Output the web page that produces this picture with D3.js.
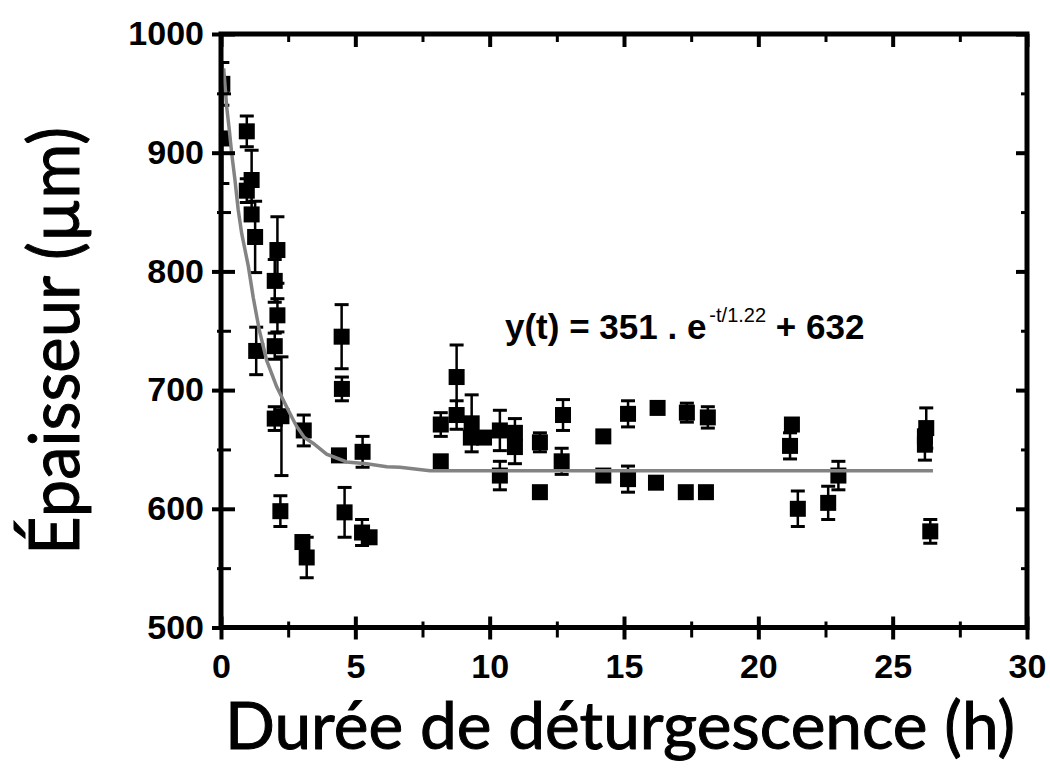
<!DOCTYPE html>
<html><head><meta charset="utf-8">
<script src="https://cdn.jsdelivr.net/npm/d3@7"></script>
<style>body{margin:0;background:#fff} svg{display:block}</style>
</head><body>
<svg id="chart" width="1050" height="774"></svg>
<script>
// ---- data ----
const tHours = [0.05,0.05,0.96,0.96,1.14,1.14,1.27,2.1,2.0,2.1,2.0,1.31,4.49,4.5,2.0,2.25,3.08,4.39,5.27,2.21,4.6,3.03,3.19,5.25,5.53,
  8.18,8.18,8.77,8.77,9.33,9.3,9.79,10.38,10.94,10.94,10.38,11.87,11.87,12.73,12.68,14.23,14.23,15.15,15.15,16.25,16.19,17.34,17.3,18.12,18.05,
  21.25,21.18,21.47,22.98,22.6,26.25,26.2,26.2,26.4];
const thickness = [958,912,918,868,877,848,829,818,792,763,737,733,745,701,676,678,666,645,648,598,597,572,559,580,576,
  671,640,711,679,672,660,660,666,664,652,628,656,614,679,640,661,628,680,625,685,622,681,614,677,614,
  671,653,600,628,605,668,661,654,581];
const errThickness = [18,38,13,10,25,0,30,28,18,14,11,20,27,10,10,50,13,0,13,13,21,0,17,11,0,
  10,0,27,12,24,0,0,17,12,14,12,8,0,13,11,0,0,11,11,0,0,8,0,9,0,
  0,11,15,12,14,17,0,13,10];
const fitT = [0.1,0.21,0.31,0.4,0.52,0.64,0.77,1.02,1.2,1.43,1.7,2.07,2.44,2.8,3.1,3.44,3.93,4.68,5.42,6.17,6.66,7.78,26.5];
const fitV = [971,939,919,899,877,852,832,804,778,750,725,703,686,670,660,655,646,639.5,638,635.5,635,632,632];
const xMajor = [0,5,10,15,20,25,30];
const xMinor = [2.5,7.5,12.5,17.5,22.5,27.5];
const yMajor = [500,600,700,800,900,1000];
const yMinor = [550,650,750,850,950];
const xTitle = "Durée de déturgescence (h)";
const yTitle = "Épaisseur (µm)";
const eqMain = "y(t) = 351 . e";
const eqSup = "-t/1.22";
const eqTail = " + 632";

// ---- layout ----
const L = 221, R = 1027, T = 34, B = 627.5;
const svg = d3.select("#chart");
const x = d3.scaleLinear().domain([0, 30]).range([L, R]);
const y = d3.scaleLinear().domain([500, 1000]).range([B, T]);
const tickFont = "'Liberation Sans', Arial, sans-serif";
const fmt = d3.format("d");

svg.append("defs").append("clipPath").attr("id", "plotclip")
  .append("rect").attr("x", L).attr("y", T).attr("width", R - L).attr("height", B - T);

const pts = tHours.map((t, i) => ({t, v: thickness[i], e: errThickness[i]}));
const g = svg.append("g").attr("clip-path", "url(#plotclip)");

// error bars
const eb = g.append("g").attr("stroke", "#000").attr("fill", "none");
pts.filter(d => d.e > 0).forEach(d => {
  eb.append("line").attr("x1", x(d.t)).attr("x2", x(d.t)).attr("y1", y(d.v - d.e)).attr("y2", y(d.v + d.e)).attr("stroke-width", 2.5);
  [d.v - d.e, d.v + d.e].forEach(val => {
    eb.append("line").attr("x1", x(d.t) - 7).attr("x2", x(d.t) + 7).attr("y1", y(val)).attr("y2", y(val)).attr("stroke-width", 3);
  });
});
// squares
const sz = 16;
g.append("g").selectAll("rect").data(pts).join("rect")
  .attr("x", d => x(d.t) - sz / 2).attr("y", d => y(d.v) - sz / 2)
  .attr("width", sz).attr("height", sz).attr("fill", "#000");

// fit curve
g.append("path").datum(fitT.map((t, i) => [t, fitV[i]]))
  .attr("d", d3.line().x(d => x(d[0])).y(d => y(d[1])))
  .attr("fill", "none").attr("stroke", "#838383").attr("stroke-width", 3.5);

// axes
function styleAxis(sel, w) {
  sel.select(".domain").remove();
  sel.selectAll(".tick line").attr("stroke", "#000").attr("stroke-width", w);
  sel.selectAll("text").attr("font-family", tickFont).attr("font-weight", "bold").attr("font-size", 34).attr("fill", "#000");
}
// left
svg.append("g").attr("transform", `translate(${L},0)`).call(d3.axisLeft(y).tickValues(yMajor).tickFormat(fmt).tickSize(9).tickPadding(8)).call(styleAxis, 4);
svg.append("g").attr("transform", `translate(${L},0)`).call(d3.axisRight(y).tickValues(yMajor).tickSize(14).tickFormat("")).call(styleAxis, 4);
svg.append("g").attr("transform", `translate(${L},0)`).call(d3.axisLeft(y).tickValues(yMinor).tickSize(4).tickFormat("")).call(styleAxis, 3);
svg.append("g").attr("transform", `translate(${L},0)`).call(d3.axisRight(y).tickValues(yMinor).tickSize(10).tickFormat("")).call(styleAxis, 3);
// right
svg.append("g").attr("transform", `translate(${R},0)`).call(d3.axisLeft(y).tickValues(yMajor).tickSize(11).tickFormat("")).call(styleAxis, 4);
svg.append("g").attr("transform", `translate(${R},0)`).call(d3.axisLeft(y).tickValues(yMinor).tickSize(6).tickFormat("")).call(styleAxis, 3);
// bottom
svg.append("g").attr("transform", `translate(0,${B})`).call(d3.axisBottom(x).tickValues(xMajor).tickFormat(fmt).tickSize(12).tickPadding(14)).call(styleAxis, 4);
svg.append("g").attr("transform", `translate(0,${B})`).call(d3.axisTop(x).tickValues(xMajor).tickSize(11).tickFormat("")).call(styleAxis, 4);
svg.append("g").attr("transform", `translate(0,${B})`).call(d3.axisBottom(x).tickValues(xMinor).tickSize(10).tickFormat("")).call(styleAxis, 3);
svg.append("g").attr("transform", `translate(0,${B})`).call(d3.axisTop(x).tickValues(xMinor).tickSize(6).tickFormat("")).call(styleAxis, 3);
// top
svg.append("g").attr("transform", `translate(0,${T})`).call(d3.axisBottom(x).tickValues(xMajor).tickSize(13).tickFormat("")).call(styleAxis, 4);
svg.append("g").attr("transform", `translate(0,${T})`).call(d3.axisBottom(x).tickValues(xMinor).tickSize(8).tickFormat("")).call(styleAxis, 3);

// frame
svg.append("rect").attr("x", L).attr("y", T).attr("width", R - L).attr("height", B - T)
  .attr("fill", "none").attr("stroke", "#000").attr("stroke-width", 5);

// equation
const eq = svg.append("text").attr("x", 505).attr("y", 339)
  .attr("font-family", tickFont).attr("fill", "#000").style("white-space", "pre");
eq.append("tspan").attr("font-weight", "bold").attr("font-size", 35).text(eqMain);
eq.append("tspan").attr("font-size", 20).attr("dy", -17).attr("dx", 3).text(eqSup);
eq.append("tspan").attr("font-weight", "bold").attr("font-size", 35).attr("dy", 17).text(eqTail);

// titles
const titleFont = "Lato, 'Open Sans', sans-serif";
svg.append("text").attr("x", 225).attr("y", 749)
  .attr("font-family", titleFont).attr("font-size", 66).attr("fill", "#000")
  .attr("stroke", "#000").attr("stroke-width", 1)
  .attr("textLength", 790).attr("lengthAdjust", "spacingAndGlyphs").text(xTitle);
svg.append("text").attr("transform", "translate(79,555) rotate(-90)")
  .attr("font-family", titleFont).attr("font-size", 70).attr("fill", "#000")
  .attr("stroke", "#000").attr("stroke-width", 1)
  .attr("textLength", 428).attr("lengthAdjust", "spacingAndGlyphs").text(yTitle);
</script>
</body></html>
